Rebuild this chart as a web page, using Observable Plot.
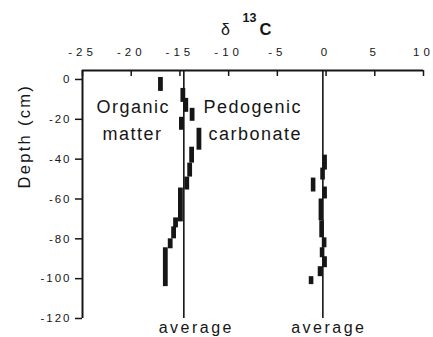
<!DOCTYPE html>
<html>
<head>
<meta charset="utf-8">
<script src="https://cdn.jsdelivr.net/npm/d3@7"></script>
<script src="https://cdn.jsdelivr.net/npm/@observablehq/plot@0.6"></script>
<style>
  html, body { margin: 0; padding: 0; background: #fff; }
  #chart { width: 433px; height: 337px; overflow: hidden; }
</style>
</head>
<body>
<div id="chart"></div>
<script>
// Tick values
const xTicks = [-25, -20, -15, -10, -5, 0, 5, 10];
const yTicks = [0, -20, -40, -60, -80, -100, -120];

// Organic matter δ13C (per-depth interval)
const organicX      = [-17.0, -14.7, -14.4, -13.75, -14.85, -13.05, -13.8, -14.0, -14.3, -14.95, -15.45, -15.65, -16.0, -16.5];
const organicTop    = [1, -4.5, -9.5, -14.5, -19, -24.5, -34, -42, -49, -54.5, -69.5, -74, -80, -84.5];
const organicBottom = [-6, -11.5, -16.5, -21, -25.5, -35.5, -42, -49, -55.5, -71.5, -74.5, -80, -85, -104];

// Pedogenic carbonate δ13C
const carbonateX      = [-0.15, -0.36, -1.33, -0.15, -0.53, -0.46, -0.2, -0.41, -0.15, -0.62, -1.54];
const carbonateTop    = [-38, -44.5, -49.5, -54, -60, -71, -79.5, -84.5, -89, -94, -99];
const carbonateBottom = [-45.5, -50.5, -56.5, -60, -71, -79.5, -84.5, -89.5, -94.5, -99, -103];

// Averages
const averages = [-14.6, -0.33];
const averageLabels = ["average", "average"];

const ink = "#161616";
const yTop = 4.5;

const organic = organicX.map((x, i) => ({x, y1: organicTop[i], y2: organicBottom[i]}));
const carbonate = carbonateX.map((x, i) => ({x, y1: carbonateTop[i], y2: carbonateBottom[i]}));
const avg = averages.map((x, i) => ({x, label: averageLabels[i]}));

const plot = Plot.plot({
  width: 433,
  height: 337,
  marginTop: 70,
  marginBottom: 19,
  marginLeft: 82,
  marginRight: 10,
  style: {fontFamily: "'Liberation Sans', Arial, sans-serif", fontSize: "11.5px", color: ink, background: "#fff"},
  x: {domain: [-25, 10]},
  y: {domain: [-120, yTop]},
  marks: [
    // top tick labels
    Plot.axisX({anchor: "top", ticks: xTicks, tickSize: 0, tickPadding: 15, tickFormat: d => String(d), label: null, fontSize: 11.5}),
    // inward top ticks
    Plot.ruleX(xTicks, {x: d => d, y1: yTop, y2: yTop - 3, stroke: ink, strokeWidth: 1.5}),
    // y axis
    Plot.axisY({ticks: yTicks, tickSize: 7, tickPadding: 4, tickFormat: d => String(d), label: null, fontSize: 11.5, strokeWidth: 1.5}),
    // frame lines
    Plot.ruleY([yTop], {stroke: ink, strokeWidth: 2}),
    Plot.ruleX([-25], {stroke: ink, strokeWidth: 2}),
    // average lines
    Plot.ruleX(avg, {x: "x", stroke: ink, strokeWidth: 1.6}),
    // data bars
    Plot.ruleX(organic, {x: "x", y1: "y1", y2: "y2", stroke: ink, strokeWidth: 4.8}),
    Plot.ruleX(carbonate, {x: "x", y1: "y1", y2: "y2", stroke: ink, strokeWidth: 4.6}),
    // average labels
    Plot.text([avg[0]], {x: "x", text: "label", frameAnchor: "bottom", dy: 9, dx: 12.5, fontSize: 16, lineAnchor: "middle", fill: ink}),
    Plot.text([avg[1]], {x: "x", text: "label", frameAnchor: "bottom", dy: 9, dx: 6, fontSize: 16, lineAnchor: "middle", fill: ink}),
    // series labels
    Plot.text(["Organic"], {frameAnchor: "top-left", dx: 14, dy: 36.5, textAnchor: "start", lineAnchor: "middle", fontSize: 18, fill: ink}),
    Plot.text(["matter"], {frameAnchor: "top-left", dx: 20, dy: 63.5, textAnchor: "start", lineAnchor: "middle", fontSize: 18, fill: ink}),
    Plot.text(["Pedogenic"], {frameAnchor: "top-left", dx: 121, dy: 36.5, textAnchor: "start", lineAnchor: "middle", fontSize: 18, fill: ink}),
    Plot.text(["carbonate"], {frameAnchor: "top-left", dx: 126, dy: 63.5, textAnchor: "start", lineAnchor: "middle", fontSize: 18, fill: ink}),
    // y label
    Plot.text(["Depth (cm)"], {frameAnchor: "left", rotate: -90, dx: -58, dy: -6, fontSize: 16.5, lineAnchor: "middle", fill: ink}),
    // title δ 13 C
    Plot.text(["δ"], {frameAnchor: "top", dx: -27.5, dy: -41, fontSize: 16, lineAnchor: "middle", fill: ink}),
    Plot.text(["13"], {frameAnchor: "top", dx: -3.5, dy: -52.5, fontSize: 12.5, fontWeight: "bold", lineAnchor: "middle", fill: ink}),
    Plot.text(["C"], {frameAnchor: "top", dx: 12.5, dy: -41, fontSize: 16.5, fontWeight: "bold", lineAnchor: "middle", fill: ink})
  ]
});

document.getElementById("chart").appendChild(plot);

// letter spacing to mimic the original typography
const svg = d3.select(plot);
svg.selectAll('g[aria-label="x-axis tick label"] text').style("letter-spacing", "4px");
svg.selectAll('g[aria-label="y-axis tick label"] text').style("letter-spacing", "2px");
const spacing = {"Organic": "1.5px", "matter": "1.5px", "Pedogenic": "1.5px", "carbonate": "1.5px", "Depth (cm)": "2.3px", "average": "2.5px"};
svg.selectAll('g[aria-label="text"] text').each(function() {
  const t = this.textContent;
  if (spacing[t]) d3.select(this).style("letter-spacing", spacing[t]);
});
</script>
</body>
</html>
